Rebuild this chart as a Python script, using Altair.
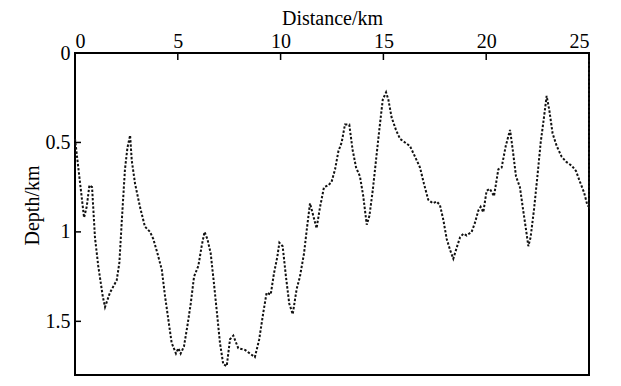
import altair as alt
import pandas as pd

dist = [0.00, 0.44, 0.57, 0.70, 0.83, 0.97, 1.13, 1.35, 1.46, 1.70, 2.03, 2.16, 2.27, 2.43, 2.55, 2.68,
        2.76, 2.92, 3.16, 3.40, 3.65, 3.81, 4.01, 4.22, 4.38, 4.54, 4.70, 4.91, 5.03, 5.14, 5.30, 5.46,
        5.63, 5.79, 6.00, 6.16, 6.30, 6.44, 6.60, 6.76, 6.92, 7.05, 7.21, 7.38, 7.54, 7.70, 7.94, 8.27,
        8.51, 8.75, 8.96, 9.16, 9.32, 9.52, 9.68, 9.84, 9.94, 10.10, 10.26, 10.42, 10.59, 10.78, 10.94,
        11.14, 11.27, 11.43, 11.59, 11.75, 11.92, 12.11, 12.32, 12.48, 12.65, 12.81, 12.97, 13.13, 13.34,
        13.50, 13.67, 13.86, 14.02, 14.19, 14.32, 14.48, 14.64, 14.80, 14.97, 15.13, 15.24, 15.40, 15.61,
        15.81, 16.05, 16.29, 16.54, 16.78, 16.97, 17.18, 17.40, 17.59, 17.75, 17.91, 18.08, 18.24, 18.40,
        18.56, 18.73, 18.89, 19.05, 19.29, 19.45, 19.62, 19.73, 19.86, 20.02, 20.18, 20.38, 20.59, 20.75,
        20.95, 21.16, 21.29, 21.45, 21.64, 21.80, 21.94, 22.05, 22.16, 22.32, 22.49, 22.65, 22.81, 22.94,
        23.07, 23.23, 23.43, 23.67, 23.91, 24.16, 24.37, 24.56, 24.76, 24.92, 25.00, 25.00]
depth = [0.48, 0.92, 0.86, 0.74, 0.75, 1.03, 1.19, 1.36, 1.42, 1.34, 1.27, 1.17, 0.95, 0.65, 0.53, 0.46,
         0.60, 0.73, 0.86, 0.97, 1.00, 1.04, 1.12, 1.21, 1.36, 1.49, 1.62, 1.68, 1.65, 1.68, 1.64, 1.53,
         1.40, 1.25, 1.19, 1.08, 1.00, 1.04, 1.12, 1.29, 1.47, 1.62, 1.74, 1.75, 1.60, 1.58, 1.65, 1.66,
         1.68, 1.70, 1.60, 1.45, 1.34, 1.35, 1.23, 1.14, 1.06, 1.08, 1.25, 1.40, 1.46, 1.32, 1.25,
         1.12, 0.99, 0.84, 0.91, 0.98, 0.86, 0.75, 0.74, 0.72, 0.65, 0.55, 0.50, 0.40, 0.40,
         0.54, 0.64, 0.69, 0.80, 0.96, 0.91, 0.77, 0.60, 0.43, 0.26, 0.22, 0.26, 0.36, 0.43,
         0.48, 0.50, 0.52, 0.58, 0.64, 0.73, 0.82, 0.84, 0.83, 0.85, 0.93, 1.04, 1.10, 1.15,
         1.09, 1.03, 1.01, 1.02, 1.00, 0.95, 0.88, 0.86, 0.89, 0.77, 0.76, 0.80, 0.65, 0.64,
         0.52, 0.43, 0.54, 0.69, 0.75, 0.88, 0.99, 1.08, 1.03, 0.88, 0.69, 0.50, 0.36, 0.24,
         0.32, 0.45, 0.52, 0.58, 0.61, 0.63, 0.66, 0.72, 0.78, 0.85, 0.86, 0.00]

x_ticks = [0, 5, 10, 15, 20, 25]
y_ticks = [0, 0.5, 1, 1.5]

df = pd.DataFrame({"i": list(range(len(dist))), "dist": dist, "depth": depth})
xt_df = pd.DataFrame({"dist": x_ticks})
yt_df = pd.DataFrame({"depth": y_ticks})

FONT = "'Liberation Serif', 'Times New Roman', Times, serif"
xscale = alt.Scale(domain=[0, 25], nice=False, zero=False)
yscale = alt.Scale(domain=[0, 1.8], nice=False, reverse=True)
xaxis = alt.Axis(orient="top", title="Distance/km", values=x_ticks, format="d",
                 labelPadding=2, titlePadding=3)
yaxis = alt.Axis(orient="left", title="Depth/km", values=y_ticks, labelExpr="datum.value + ''",
                 labelPadding=5, titlePadding=3, titleY=152)

line = alt.Chart(df).mark_line(
    color="#111111", strokeWidth=2.0, strokeDash=[2.4, 1.8], interpolate="linear"
).encode(
    x=alt.X("dist:Q", scale=xscale, axis=xaxis),
    y=alt.Y("depth:Q", scale=yscale, axis=yaxis),
    order=alt.Order("i:Q"),
)

xt = alt.Chart(xt_df).mark_rule(color="black", strokeWidth=1.5).encode(
    x=alt.X("dist:Q", scale=xscale, axis=xaxis),
    y=alt.value(0), y2=alt.value(7),
)
yt = alt.Chart(yt_df).mark_rule(color="black", strokeWidth=1.5).encode(
    y=alt.Y("depth:Q", scale=yscale, axis=yaxis),
    x=alt.value(0), x2=alt.value(6),
)

chart = alt.layer(line, xt, yt).properties(
    width=514, height=322,
    padding={"left": 67, "top": 45, "right": 24, "bottom": 3},
    autosize=alt.AutoSizeParams(type="none"),
    background="white",
).configure_view(
    stroke="black", strokeWidth=2
).configure_axis(
    grid=False, ticks=False, domain=False,
    labelFont=FONT, labelFontSize=20, labelColor="black",
    titleFont=FONT, titleFontSize=20, titleFontWeight="normal", titleColor="black",
)

chart.save("out.html", embed_options={"renderer": "svg", "actions": False})
